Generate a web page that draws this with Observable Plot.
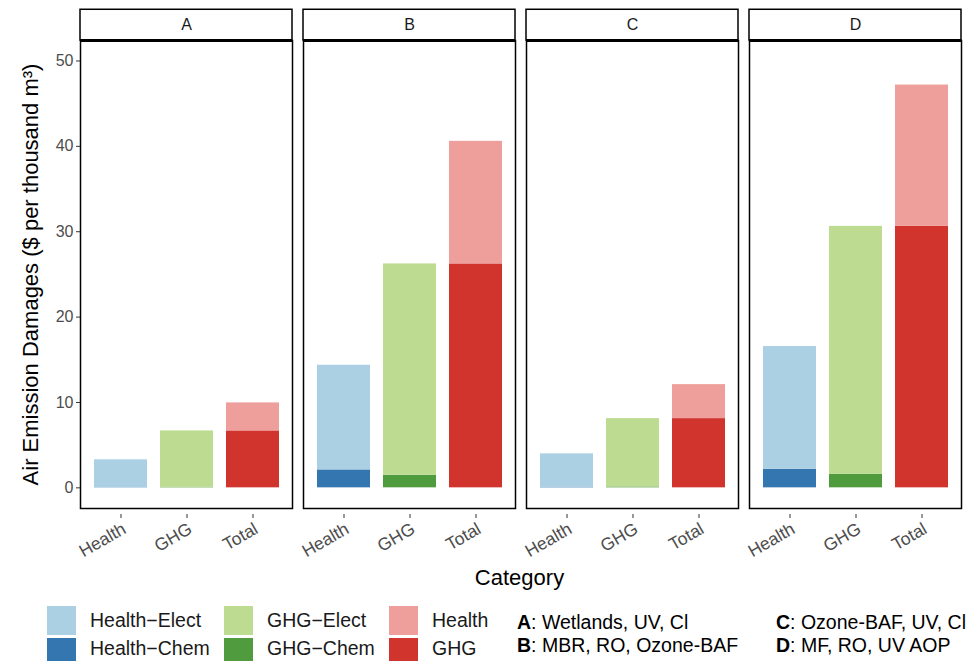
<!DOCTYPE html>
<html><head><meta charset="utf-8">
<script src="https://cdn.jsdelivr.net/npm/d3@7"></script>
<script src="https://cdn.jsdelivr.net/npm/@observablehq/plot@0.6"></script>
<style>
body{margin:0;background:#fff;font-family:"Liberation Sans",Arial,Helvetica,sans-serif;}
#chart{width:970px;height:596px;}
#legend{position:relative;width:970px;height:65px;overflow:hidden;}
.key{position:absolute;width:29px;height:29px;}
.lab{position:absolute;font-size:19.5px;color:#1a1a1a;line-height:29px;white-space:nowrap;}
.note{position:absolute;font-size:19.5px;color:#000;line-height:24px;white-space:nowrap;}
</style></head><body>
<div id="chart"></div>
<div id="legend"></div>
<script>
const facets = ["A", "B", "C", "D"];
const categories = ["Health", "GHG", "Total"];
const components = ["Health−Elect", "Health−Chem", "GHG−Elect", "GHG−Chem", "Health", "GHG"];
const componentColors = ["#abcfe3", "#3476b0", "#bddc92", "#4f9b3e", "#ee9f9c", "#d0342c"];
const healthElect = [3.25, 12.26, 3.93, 14.37];
const healthChem  = [0.03, 2.10, 0.05, 2.18];
const ghgElect    = [6.62, 24.75, 8.01, 29.03];
const ghgChem     = [0.05, 1.48, 0.10, 1.60];
const yTicks = [0, 10, 20, 30, 40, 50];
const facetNotes = ["Wetlands, UV, Cl", "MBR, RO, Ozone-BAF", "Ozone-BAF, UV, Cl", "MF, RO, UV AOP"];
const yTitle = "Air Emission Damages ($ per thousand m³)";
const xTitle = "Category";

const rows = [];
facets.forEach((f, i) => {
  rows.push({facet: f, category: "Health", component: "Health−Chem", value: healthChem[i]});
  rows.push({facet: f, category: "Health", component: "Health−Elect", value: healthElect[i]});
  rows.push({facet: f, category: "GHG", component: "GHG−Chem", value: ghgChem[i]});
  rows.push({facet: f, category: "GHG", component: "GHG−Elect", value: ghgElect[i]});
  rows.push({facet: f, category: "Total", component: "GHG", value: ghgElect[i] + ghgChem[i]});
  rows.push({facet: f, category: "Total", component: "Health", value: healthElect[i] + healthChem[i]});
});

const yMin = -2.42, yMax = 52.4, stripTop = 56.0;
const font = '"Liberation Sans", Arial, Helvetica, sans-serif';

const chart = Plot.plot({
  width: 970, height: 596,
  marginLeft: 79, marginRight: 7, marginTop: 40, marginBottom: 88,
  style: {fontFamily: font, background: "#fff", overflow: "visible"},
  fx: {domain: facets, paddingInner: 0.048, paddingOuter: 0, axis: null},
  x: {domain: categories, padding: 0.2, axis: null},
  y: {domain: [yMin, yMax], axis: null},
  color: {domain: components, range: componentColors},
  marks: [
    Plot.barY(rows, {fx: "facet", x: "category", y: "value", fill: "component"}),
    Plot.frame({stroke: "#000", strokeWidth: 1.5}),
    Plot.rect([0], {y1: yMax, y2: stripTop, fill: "#fff", stroke: "#000", strokeWidth: 1.5}),
    Plot.ruleY([yMax], {stroke: "#000", strokeWidth: 2.8}),
    Plot.text(facets, {fx: d => d, text: d => d, frameAnchor: "top", dy: -15.5, lineAnchor: "middle", fontSize: 16, fill: "#1a1a1a"}),
    Plot.axisY({ticks: yTicks, tickSize: 4, tickPadding: 3, fontSize: 16, fill: "#4d4d4d", stroke: "#333", label: null}),
    Plot.axisX({tickRotate: -30, tickSize: 4, tickPadding: 3, textAnchor: "end", lineAnchor: "top", dx: 0, dy: 6, fontSize: 17.5, fill: "#4d4d4d", stroke: "#333", label: null}),
    Plot.text([yTitle], {fx: () => "A", frameAnchor: "left", rotate: -90, dx: -43, textAnchor: "middle", lineAnchor: "bottom", fontSize: 22, fill: "#000"}),
    Plot.text([xTitle], {fx: () => "B", frameAnchor: "bottom-right", dx: 4, dy: 76, textAnchor: "middle", lineAnchor: "bottom", fontSize: 22, fill: "#000"})
  ]
});
document.getElementById("chart").appendChild(chart);

// legend
const legend = document.getElementById("legend");
const keyCols = [{key: 47, lab: 90}, {key: 224, lab: 267}, {key: 389, lab: 432}];
const keyOrder = [["Health−Elect", "Health−Chem"], ["GHG−Elect", "GHG−Chem"], ["Health", "GHG"]];
keyOrder.forEach((pair, c) => {
  pair.forEach((name, r) => {
    const top = 10 + r * 32;
    const k = document.createElement("div");
    k.className = "key";
    k.style.left = keyCols[c].key + "px";
    k.style.top = top + "px";
    k.style.background = componentColors[components.indexOf(name)];
    legend.appendChild(k);
    const t = document.createElement("div");
    t.className = "lab";
    t.style.left = keyCols[c].lab + "px";
    t.style.top = (top - r * 4) + "px";
    t.textContent = name;
    legend.appendChild(t);
  });
});
const noteCols = [517, 776];
facets.forEach((f, i) => {
  const col = Math.floor(i / 2), row = i % 2;
  const d = document.createElement("div");
  d.className = "note";
  d.style.left = noteCols[col] + "px";
  d.style.top = (14 + row * 23) + "px";
  const b = document.createElement("b");
  b.textContent = f;
  d.appendChild(b);
  d.appendChild(document.createTextNode(": " + facetNotes[i]));
  legend.appendChild(d);
});
</script>
</body></html>
